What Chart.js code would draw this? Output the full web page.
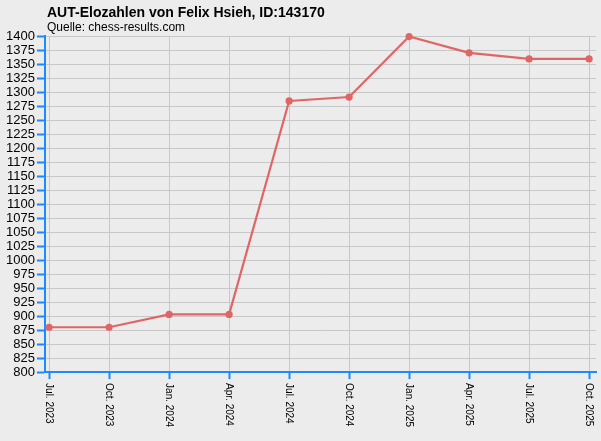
<!DOCTYPE html>
<html>
<head>
    <title>AUT-Elozahlen</title>
    <style>
        html, body { margin: 0; padding: 0; background: #ececec; }
        #wrap { width: 601px; height: 441px; }
    </style>
    <script src="https://cdn.jsdelivr.net/npm/chart.js"></script>
</head>
<body>
    <div id="wrap"><canvas id="eloChart"></canvas></div>

    <script>
        // Rating periods and values
        const periods = ['Jul. 2023', 'Oct. 2023', 'Jan. 2024', 'Apr. 2024', 'Jul. 2024',
                         'Oct. 2024', 'Jan. 2025', 'Apr. 2025', 'Jul. 2025', 'Oct. 2025'];
        const ratings = [880, 880, 903, 903, 1284, 1291, 1399, 1370, 1359, 1359];
        const yTicks = { min: 800, max: 1400, step: 25 };

        const titleText = 'AUT-Elozahlen von Felix Hsieh, ID:143170';
        const subtitleText = 'Quelle: chess-results.com';
        const blue = '#1a8cff';
        const red = '#e06666';
        const fontFamily = '"Liberation Sans", Arial, sans-serif';

        // Title, subtitle and top-to-bottom x labels
        const textPlugin = {
            id: 'textPlugin',
            afterDraw(chart) {
                const ctx = chart.ctx;
                const area = chart.chartArea;
                ctx.save();
                ctx.fillStyle = '#000';
                ctx.textBaseline = 'alphabetic';
                ctx.textAlign = 'left';
                ctx.font = 'bold 14px ' + fontFamily;
                ctx.fillText(titleText, 47, 17);
                ctx.font = '12px ' + fontFamily;
                ctx.fillText(subtitleText, 47, 31);

                const xs = chart.scales.x;
                ctx.font = '10px ' + fontFamily;
                ctx.textBaseline = 'middle';
                xs.ticks.forEach(t => {
                    const x = xs.getPixelForValue(t.value);
                    ctx.save();
                    ctx.translate(x, area.bottom + 11);
                    ctx.rotate(Math.PI / 2);
                    ctx.fillText(periods[t.value], 0, 0);
                    ctx.restore();
                });
                ctx.restore();
            }
        };

        const ctx = document.getElementById('eloChart').getContext('2d');
        new Chart(ctx, {
            type: 'line',
            data: {
                datasets: [{
                    data: ratings.map((v, i) => ({ x: i, y: v })),
                    borderColor: red,
                    backgroundColor: red,
                    borderWidth: 2.2,
                    pointRadius: 2.5,
                    pointHoverRadius: 2.5,
                    tension: 0,
                    clip: false
                }]
            },
            options: {
                responsive: true,
                maintainAspectRatio: false,
                animation: false,
                layout: { padding: { top: 36, right: 4, left: 4, bottom: 12 } },
                plugins: {
                    legend: { display: false },
                    tooltip: { enabled: false }
                },
                scales: {
                    x: {
                        type: 'linear',
                        min: -0.07,
                        max: periods.length - 1 + 0.12,
                        afterBuildTicks(scale) {
                            scale.ticks = periods.map((p, i) => ({ value: i }));
                        },
                        afterFit(scale) {
                            scale.paddingLeft = 0;
                            scale.paddingRight = 0;
                        },
                        ticks: {
                            stepSize: 1,
                            minRotation: 90,
                            maxRotation: 90,
                            autoSkip: false,
                            color: 'rgba(0,0,0,0)',
                            font: { size: 10, family: fontFamily },
                            padding: 3,
                            callback: v => periods[v] || ''
                        },
                        grid: {
                            color: '#c8c8c8',
                            tickColor: blue,
                            tickWidth: 2,
                            tickLength: 7
                        },
                        border: { color: blue, width: 2 }
                    },
                    y: {
                        min: yTicks.min,
                        max: yTicks.max,
                        ticks: {
                            stepSize: yTicks.step,
                            autoSkip: false,
                            color: '#000',
                            padding: 2,
                            font: { size: 13, family: fontFamily },
                            callback: v => String(v)
                        },
                        grid: {
                            color: '#c8c8c8',
                            tickColor: blue,
                            tickWidth: 2,
                            tickLength: 8
                        },
                        border: { color: blue, width: 2 }
                    }
                }
            },
            plugins: [textPlugin]
        });
    </script>
</body>
</html>
